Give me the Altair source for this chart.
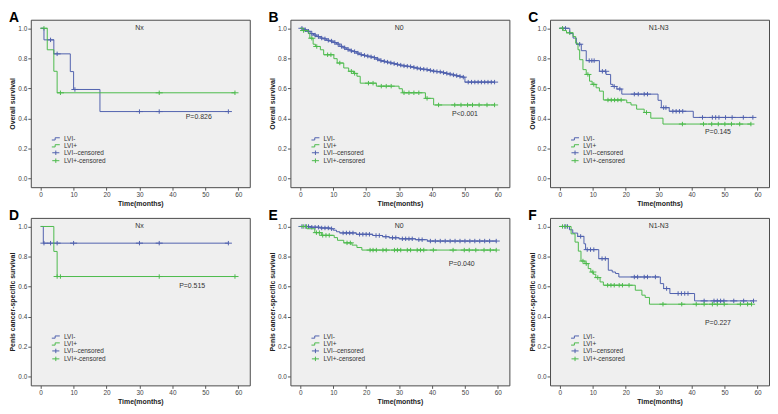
import altair as alt
import pandas as pd

BLUE = "#5061ae"
GREEN = "#4cba4c"
FONT = "Liberation Sans"

# ---------------- data ----------------
# Panel A: Nx, overall survival
a_neg_t = [0, 1, 4, 9, 10, 18]
a_neg_s = [1.0, 0.923, 0.83, 0.712, 0.593, 0.446]
a_neg_end = 57
a_neg_cens = [3, 5, 10.4, 30, 36, 57]
a_pos_t = [0, 2, 4, 5]
a_pos_s = [1.0, 0.857, 0.714, 0.571]
a_pos_end = 59
a_pos_cens = [1, 6, 36, 59]

# Panel B: N0, overall survival
b_neg_t = [0, 1, 2, 3, 4, 5, 6, 7, 8, 9, 10, 11, 12, 13, 14, 15, 16, 17, 18, 19, 20,
           21, 22, 23, 24, 25, 26, 27, 28, 29, 30, 31, 32, 33, 34, 35, 36, 37, 38, 39,
           40, 41, 42, 43, 44, 45, 46, 47, 48, 49, 50]
b_neg_s = [1.0, 0.99, 0.98, 0.965, 0.955, 0.945, 0.935, 0.93, 0.92, 0.915, 0.905, 0.895,
           0.88, 0.87, 0.86, 0.85, 0.845, 0.835, 0.825, 0.82, 0.815, 0.81, 0.805, 0.795,
           0.785, 0.78, 0.775, 0.77, 0.765, 0.76, 0.755, 0.75, 0.748, 0.745, 0.74, 0.735,
           0.73, 0.728, 0.725, 0.72, 0.715, 0.712, 0.71, 0.705, 0.70, 0.695, 0.69, 0.685,
           0.68, 0.675, 0.642]
b_neg_end = 59
b_neg_cens = [0.5, 1.5, 2.5, 3.5, 4.5, 5.5, 6.5, 7.5, 8.5, 9.5, 10.5, 11.5, 12.5, 13.5,
              14.5, 15.5, 16.5, 17.5, 18.5, 19.5, 20.5, 21.5, 22.5, 23.5, 24.5, 25.5, 26.5,
              27.5, 28.5, 29.5, 30.5, 31.5, 32.5, 33.5, 34.5, 35.5, 36.5, 37.5, 38.5, 39.5,
              40.5, 41.5, 42.5, 43.5, 44.5, 45.5, 46.5, 47.5, 48.5, 49.5, 51, 52, 53, 54,
              55, 56, 57, 58, 59]
b_pos_t = [0, 1, 2.4, 2.9, 3.9, 4.6, 6.1, 7.1, 10.2, 11.2, 13.2, 14.7, 16.2, 17.2, 18.2,
           23.1, 30, 31, 38, 40.5]
b_pos_s = [1.0, 0.985, 0.967, 0.934, 0.894, 0.879, 0.857, 0.824, 0.798, 0.769, 0.736,
           0.714, 0.70, 0.681, 0.635, 0.615, 0.598, 0.571, 0.534, 0.49]
b_pos_end = 59
b_pos_cens = [1, 3.5, 5, 8.3, 9.3, 12, 15.5, 16.5, 20.7, 22.1, 24.6, 26.1, 27.6, 31.5, 33,
              34.5, 36, 38.5, 42, 46.9, 48.8, 50.8, 52.3, 54.3, 56.7, 59]

# Panel C: N1-N3, overall survival
c_neg_t = [0, 3, 4, 5, 6.5, 8, 12, 14, 15.4, 16.1, 17.3, 18.8, 29.8, 30.8, 33.2, 40.5]
c_neg_s = [1.0, 0.965, 0.935, 0.894, 0.851, 0.785, 0.714, 0.693, 0.627, 0.613, 0.596,
           0.562, 0.521, 0.472, 0.448, 0.407]
c_neg_end = 58.6
c_neg_cens = [0.8, 1.7, 6, 8.9, 9.7, 10.4, 12.9, 13.9, 16.5, 18.2, 22.6, 23.8, 25.6, 26.6,
              31.5, 32.2, 34.3, 35.3, 36.3, 37.3, 43.3, 46.3, 47.3, 48.3, 50.3, 52.3, 55.7,
              58.6]
c_pos_t = [0, 1, 2, 4, 4.8, 5.5, 6, 7, 8, 9, 9.8, 11, 12, 13.2, 20.3, 21.6, 23.3, 25.6,
           27.6, 31.3]
c_pos_s = [1.0, 0.985, 0.97, 0.945, 0.901, 0.857, 0.791, 0.725, 0.693, 0.648, 0.627, 0.604,
           0.582, 0.523, 0.505, 0.49, 0.462, 0.44, 0.402, 0.363]
c_pos_end = 58
c_pos_cens = [0.8, 3, 8.5, 10.3, 14.6, 15.6, 16.6, 17.6, 18.6, 26.3, 37.2, 43.6, 46.1,
              48.1, 50.1, 52.1, 54.6, 58]

# Panel D: Nx, penis cancer-specific survival
d_neg_t = [0, 0.8]
d_neg_s = [1.0, 0.889]
d_neg_end = 57
d_neg_cens = [1, 3, 5, 10, 30, 36, 57]
d_pos_t = [0, 4, 5]
d_pos_s = [1.0, 0.834, 0.667]
d_pos_end = 59
d_pos_cens = [5, 6, 36, 59]

# Panel E: N0, penis cancer-specific survival
e_neg_t = [0, 3, 6, 9, 10, 11, 12, 17, 22, 25, 27, 30, 35, 38.6]
e_neg_s = [1.0, 0.995, 0.99, 0.985, 0.975, 0.965, 0.957, 0.948, 0.94, 0.932, 0.925, 0.918,
           0.912, 0.903]
e_neg_end = 59.5
e_neg_cens = [0.5, 1.5, 2.5, 3.5, 4.5, 5.5, 6.5, 7.5, 8.5, 9.5, 13, 14, 15, 16, 18, 19, 20,
              21, 23, 24, 26, 28, 29, 31, 32, 33, 34, 36, 37, 39.5, 41, 42.5, 44, 45.5, 47,
              48.5, 50, 51.5, 53, 54.5, 56, 57.5, 59.5]
e_pos_t = [0, 2, 4.4, 6.4, 10.3, 11.3, 13.2, 15.7, 17.2, 18.7]
e_pos_s = [1.0, 0.985, 0.959, 0.941, 0.926, 0.908, 0.891, 0.876, 0.86, 0.843]
e_pos_end = 59.5
e_pos_cens = [0.9, 1.9, 4.9, 5.8, 6.8, 7.8, 8.8, 14.2, 15.2, 21.2, 22.1, 23.1, 25.1, 26.1,
              28.6, 29.5, 30.5, 32.5, 33.5, 35.5, 36.5, 37.5, 40.4, 46.4, 49.8, 51.3, 53.3,
              55.8, 57.7, 59.5]

# Panel F: N1-N3, penis cancer-specific survival
f_neg_t = [0, 2.9, 3.9, 5.4, 7.3, 7.8, 11.8, 14.7, 15.9, 16.9, 17.9, 30.5, 31.5, 33.4, 40.9]
f_neg_s = [1.0, 0.978, 0.956, 0.934, 0.885, 0.846, 0.786, 0.709, 0.697, 0.687, 0.664, 0.62,
           0.587, 0.554, 0.505]
f_neg_end = 58.8
f_neg_cens = [1.5, 2.3, 6.3, 8.3, 9.3, 10.3, 12.8, 13.8, 22.6, 23.6, 25.6, 26.6, 29, 32.4,
              35.9, 36.9, 37.9, 38.9, 43.8, 46.8, 47.8, 48.8, 49.8, 52.8, 55.8, 58.8]
f_pos_t = [0, 3.4, 4.6, 5.6, 6.4, 7.6, 8.6, 9.4, 10.2, 10.9, 12.2, 13.2, 22.9, 24.9, 25.9,
           27.2]
f_pos_s = [1.0, 0.951, 0.896, 0.836, 0.77, 0.753, 0.72, 0.697, 0.682, 0.66, 0.631, 0.609,
           0.576, 0.543, 0.528, 0.483]
f_pos_end = 58.2
f_pos_cens = [0.8, 1.8, 7, 8, 10, 11.5, 14.5, 15.5, 16.5, 18, 19, 21, 31.3, 37, 41.4, 43.8,
              46.3, 47.8, 49.9, 54.8, 57, 58.2]

letters = ["A", "B", "C", "D", "E", "F"]
groups = ["Nx", "N0", "N1-N3", "Nx", "N0", "N1-N3"]
p_labels = ["P=0.826", "P<0.001", "P=0.145", "P=0.515", "P=0.040", "P=0.227"]
p_x = [48, 50, 48, 46, 49, 48]
p_y = [0.41, 0.43, 0.31, 0.605, 0.75, 0.36]
y_titles = ["Overall survival"] * 3 + ["Penis cancer-specific survival"] * 3
series_names = ["LVI-", "LVI+", "LVI--censored", "LVI+-censored"]
x_ticks = [0, 10, 20, 30, 40, 50, 60]
y_ticks = [0.0, 0.2, 0.4, 0.6, 0.8, 1.0]

curves = [
    ((a_neg_t, a_neg_s, a_neg_end, a_neg_cens), (a_pos_t, a_pos_s, a_pos_end, a_pos_cens)),
    ((b_neg_t, b_neg_s, b_neg_end, b_neg_cens), (b_pos_t, b_pos_s, b_pos_end, b_pos_cens)),
    ((c_neg_t, c_neg_s, c_neg_end, c_neg_cens), (c_pos_t, c_pos_s, c_pos_end, c_pos_cens)),
    ((d_neg_t, d_neg_s, d_neg_end, d_neg_cens), (d_pos_t, d_pos_s, d_pos_end, d_pos_cens)),
    ((e_neg_t, e_neg_s, e_neg_end, e_neg_cens), (e_pos_t, e_pos_s, e_pos_end, e_pos_cens)),
    ((f_neg_t, f_neg_s, f_neg_end, f_neg_cens), (f_pos_t, f_pos_s, f_pos_end, f_pos_cens)),
]

STEP = "M-1.8,0.5 L-0.3,0.5 L-0.3,-0.5 L1.8,-0.5"
PLUS = "M-1.6,0 L1.6,0 M0,-1 L0,1"

W, H = 221, 169


def surv_at(ts, ss, t):
    v = ss[0]
    for ti, si in zip(ts, ss):
        if ti <= t:
            v = si
    return v


def panel(i):
    line_rows, cens_rows = [], []
    for name, (ts, ss, end, cens) in zip(["LVI-", "LVI+"], curves[i]):
        for t, s in zip(ts, ss):
            line_rows.append({"t": t, "s": s, "series": name})
        line_rows.append({"t": end, "s": ss[-1], "series": name})
        for c in cens:
            cens_rows.append({"t": c, "s": surv_at(ts, ss, c), "series": name + "-censored"})
    text_rows = [
        {"t": 30, "s": 1.0, "label": groups[i]},
        {"t": p_x[i], "s": p_y[i], "label": p_labels[i]},
    ]

    x = alt.X("t:Q", scale=alt.Scale(domain=[-3, 63.5], nice=False, zero=False),
              axis=alt.Axis(values=x_ticks, title="Time(months)"))
    y = alt.Y("s:Q", scale=alt.Scale(domain=[-0.057, 1.057], nice=False, zero=False),
              axis=alt.Axis(values=y_ticks, format=".1f", title=y_titles[i]))
    cscale = alt.Scale(domain=series_names, range=[BLUE, GREEN, BLUE, GREEN])
    sscale = alt.Scale(domain=series_names, range=[STEP, STEP, PLUS, PLUS])
    leg = alt.Legend(orient="bottom-left", offset=22, title=None,
                     labelFontSize=6.5, labelFont=FONT, labelColor="#333", symbolSize=20,
                     symbolStrokeWidth=1, rowPadding=-2, labelOffset=5, padding=0)

    marks = alt.Chart(pd.DataFrame(cens_rows)).mark_point(
        filled=False, size=20, strokeWidth=1, opacity=1).encode(
        x=x, y=y,
        color=alt.Color("series:N", scale=cscale, legend=leg),
        shape=alt.Shape("series:N", scale=sscale, legend=leg))
    lines = alt.Chart(pd.DataFrame(line_rows)).mark_line(
        interpolate="step-after", strokeWidth=1).encode(
        x=x, y=y, color=alt.Color("series:N", scale=cscale, legend=leg),
        detail="series:N")
    texts = alt.Chart(pd.DataFrame(text_rows)).mark_text(
        fontSize=7, font=FONT, color="#333").encode(x=x, y=y, text="label:N")

    return alt.layer(marks, lines, texts).properties(
        width=W, height=H,
        title=alt.TitleParams(letters[i], anchor="start", frame="bounds", fontSize=14,
                              fontWeight="bold", font=FONT, color="#000", offset=-5))


def row(a, b, c):
    return alt.hconcat(panel(a), panel(b), panel(c), spacing=17).resolve_scale(
        color="independent", shape="independent").resolve_legend(
        color="independent", shape="independent")


chart = alt.vconcat(row(0, 1, 2), row(3, 4, 5), spacing=1).resolve_scale(
    color="independent", shape="independent").resolve_legend(
    color="independent", shape="independent").properties(
    padding=0, background="white").configure_view(
    fill="#efefef", stroke="#4a4a4a", strokeWidth=1).configure_axis(
    domain=False, grid=False, tickSize=3, tickColor="#555", labelFontSize=6.5,
    labelColor="#444", labelFont=FONT, labelPadding=1, titleFont=FONT, titleFontSize=7,
    titleFontWeight="bold", titleColor="#222", titlePadding=2)

chart.save("out.html", embed_options={"renderer": "svg", "actions": False})
